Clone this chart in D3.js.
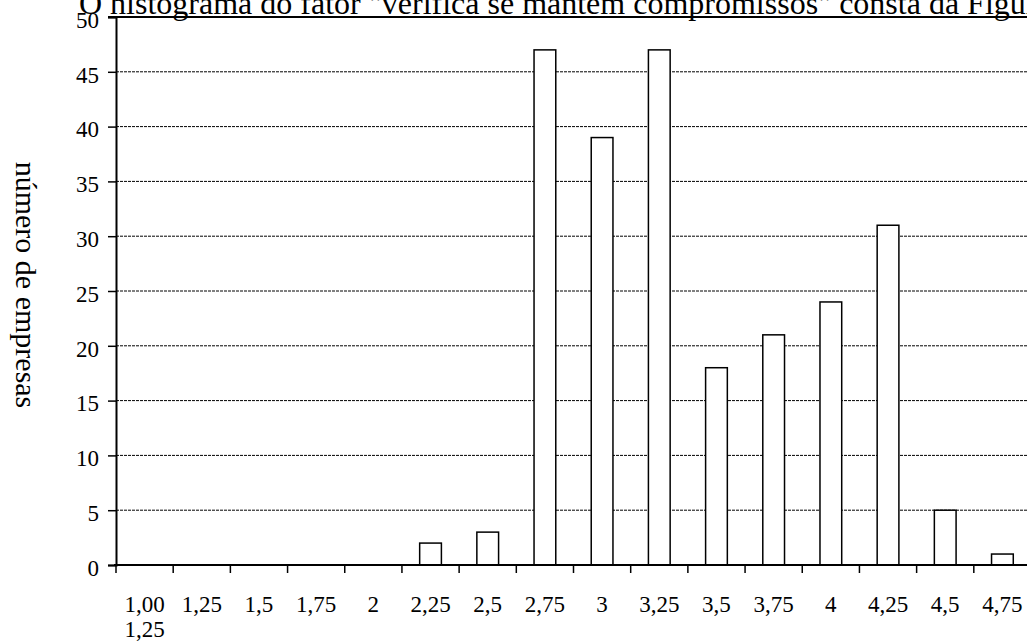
<!DOCTYPE html>
<html>
<head>
<meta charset="utf-8">
<script src="https://cdn.jsdelivr.net/npm/d3@7"></script>
<style>
  html, body { margin: 0; padding: 0; background: #fff; }
  svg { display: block; }
  svg text { font-family: "Liberation Serif", "Times New Roman", serif; fill: #000; }
</style>
</head>
<body>
<svg id="chart" width="1027" height="641"></svg>
<script>
// Histogram of companies by factor score
const categories = ["1,00", "1,25", "1,5", "1,75", "2", "2,25", "2,5", "2,75", "3", "3,25", "3,5", "3,75", "4", "4,25", "4,5", "4,75"];
const counts = [0, 0, 0, 0, 0, 2, 3, 47, 39, 47, 18, 21, 24, 31, 5, 1];
const yTicks = [0, 5, 10, 15, 20, 25, 30, 35, 40, 45, 50];
const firstLabelExtra = "1,25";
const titleText = "O histograma do fator \"verifica se mantém compromissos\" consta da Figura";
const yAxisTitle = "número de empresas";

const svg = d3.select("#chart");
const margin = { left: 116, top: 17, bottom: 565, right: 1031 };

const x = d3.scaleBand()
  .domain(categories)
  .range([margin.left, margin.right])
  .paddingInner(0.62)
  .paddingOuter(0.31);

const y = d3.scaleLinear().domain([0, 50]).range([margin.bottom, margin.top]);

// Dashed horizontal gridlines
svg.append("g")
  .selectAll("line")
  .data(yTicks.filter(d => d > 0 && d < 50))
  .join("line")
  .attr("x1", margin.left).attr("x2", 1027)
  .attr("y1", d => y(d)).attr("y2", d => y(d))
  .attr("stroke", "#000").attr("stroke-width", 1)
  .attr("stroke-dasharray", "3,1");

// Top frame line
svg.append("line")
  .attr("x1", margin.left - 8).attr("x2", 1027)
  .attr("y1", y(50)).attr("y2", y(50))
  .attr("stroke", "#000").attr("stroke-width", 2);

// Bars
svg.append("g")
  .selectAll("rect")
  .data(categories.map((c, i) => ({ c, v: counts[i] })).filter(d => d.v > 0))
  .join("rect")
  .attr("x", d => x(d.c))
  .attr("width", x.bandwidth())
  .attr("y", d => y(d.v))
  .attr("height", d => y(0) - y(d.v))
  .attr("fill", "#fff")
  .attr("stroke", "#000")
  .attr("stroke-width", 1.5);

// Y axis
const yAxis = d3.axisLeft(y).tickValues(yTicks).tickSize(8).tickPadding(9);
const gy = svg.append("g").attr("transform", `translate(${margin.left},0)`).call(yAxis);
gy.attr("font-family", null).attr("font-size", null);
gy.select(".domain").attr("stroke-width", 2);
gy.selectAll(".tick line").attr("stroke-width", 1.5);
gy.selectAll("text").attr("font-size", 23).attr("dy", "0.45em");

// X axis: ticks at band boundaries
const step = x.step();
const boundaries = categories.map((c, i) => margin.left + i * step);
const xg = svg.append("g");
xg.append("line")
  .attr("x1", margin.left - 2).attr("x2", 1027)
  .attr("y1", y(0)).attr("y2", y(0))
  .attr("stroke", "#000").attr("stroke-width", 2);
xg.selectAll("line.tk")
  .data(boundaries)
  .join("line").attr("class", "tk")
  .attr("x1", d => d).attr("x2", d => d)
  .attr("y1", y(0)).attr("y2", y(0) + 8)
  .attr("stroke", "#000").attr("stroke-width", 1.5);
xg.selectAll("text.lbl")
  .data(categories)
  .join("text").attr("class", "lbl")
  .attr("x", d => x(d) + x.bandwidth() / 2)
  .attr("y", 612)
  .attr("text-anchor", "middle")
  .attr("font-size", 23)
  .text(d => d);
xg.append("text")
  .attr("x", x(categories[0]) + x.bandwidth() / 2)
  .attr("y", 637)
  .attr("text-anchor", "middle")
  .attr("font-size", 23)
  .text(firstLabelExtra);

// Y axis title (reads top to bottom)
svg.append("text")
  .attr("transform", "translate(16,285) rotate(90)")
  .attr("text-anchor", "middle")
  .attr("font-size", 30)
  .text(yAxisTitle);

// Running text above the chart
svg.append("text")
  .attr("x", 79)
  .attr("y", 14)
  .attr("font-size", 32)
  .text(titleText);
</script>
</body>
</html>
